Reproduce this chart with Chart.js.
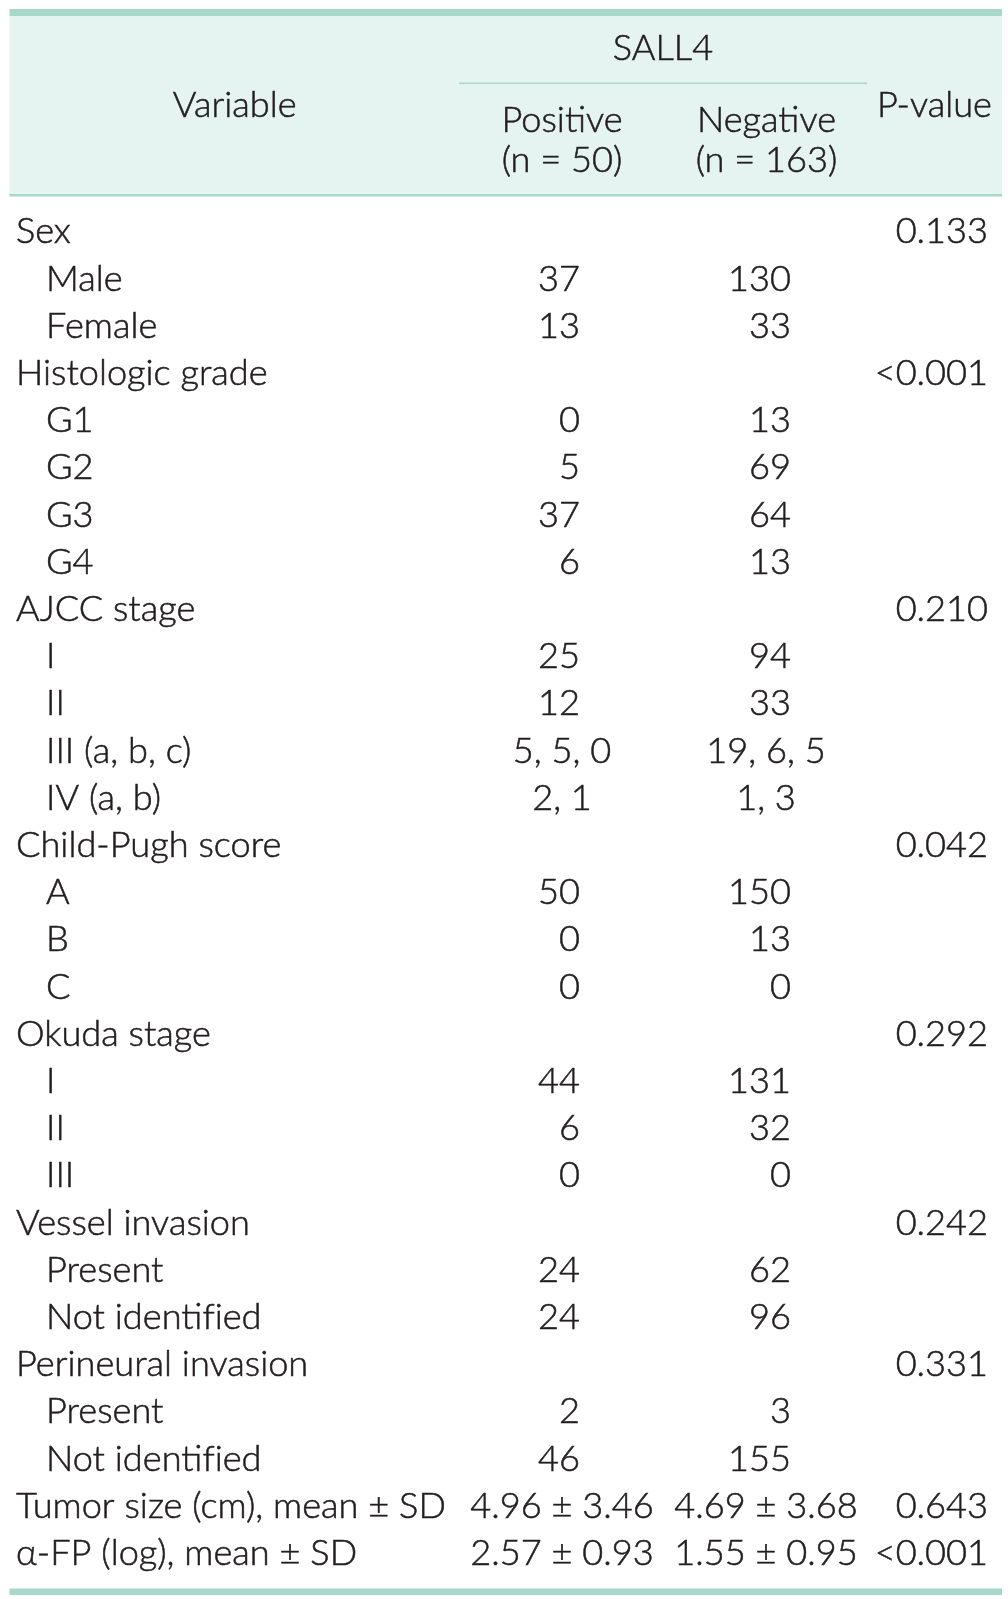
<!DOCTYPE html>
<html>
<head>
<meta charset="utf-8">
<script src="https://cdn.jsdelivr.net/npm/chart.js@4"></script>
<style>
  body { margin: 0; background: #fff; }
  #wrap { width: 1008px; height: 1599px; }
</style>
</head>
<body>
<div id="wrap"><canvas id="tableChart" width="1008" height="1599"></canvas></div>
<script>
// table content
const variables = [
  'Sex', 'Male', 'Female',
  'Histologic grade', 'G1', 'G2', 'G3', 'G4',
  'AJCC stage', 'I', 'II', 'III (a, b, c)', 'IV (a, b)',
  'Child-Pugh score', 'A', 'B', 'C',
  'Okuda stage', 'I', 'II', 'III',
  'Vessel invasion', 'Present', 'Not identified',
  'Perineural invasion', 'Present', 'Not identified',
  'Tumor size (cm), mean \u00b1 SD',
  '\u03b1-FP (log), mean \u00b1 SD'
];
const levels = [0, 1, 1, 0, 1, 1, 1, 1, 0, 1, 1, 1, 1, 0, 1, 1, 1, 0, 1, 1, 1, 0, 1, 1, 0, 1, 1, 0, 0];
const positive = [
  '', '37', '13',
  '', '0', '5', '37', '6',
  '', '25', '12', '5, 5, 0', '2, 1',
  '', '50', '0', '0',
  '', '44', '6', '0',
  '', '24', '24',
  '', '2', '46',
  '4.96 \u00b1 3.46', '2.57 \u00b1 0.93'
];
const negative = [
  '', '130', '33',
  '', '13', '69', '64', '13',
  '', '94', '33', '19, 6, 5', '1, 3',
  '', '150', '13', '0',
  '', '131', '32', '0',
  '', '62', '96',
  '', '3', '155',
  '4.69 \u00b1 3.68', '1.55 \u00b1 0.95'
];
const pValues = [
  '0.133', '', '',
  '<0.001', '', '', '', '',
  '0.210', '', '', '', '',
  '0.042', '', '', '',
  '0.292', '', '', '',
  '0.242', '', '',
  '0.331', '', '',
  '0.643', '<0.001'
];
const groupTitle = 'SALL4';
const varTitle = 'Variable';
const pTitle = 'P-value';
const subTitles = [['Positive', '(n = 50)'], ['Negative', '(n = 163)']];

// layout
const FONT = '300 {size}px Lato';
const INK = '#231f20';
const TEAL = '#a6d8cb';
const HEAD_BG = '#e6f4f1';
const firstBase = 243.3;
const rowStep = 47.2;
const yMin = -firstBase / rowStep;
const yMax = yMin + 1599 / rowStep;
const col = { lab: 16, sub: 46, posR: 580, posC: 562, negR: 791, negC: 766, pR: 988 };

function isInt(s) { return /^\d+$/.test(s); }

function cells(texts, xFor) {
  return texts.map((t, i) => ({ x: xFor(t, i), y: i }));
}

function font(size) { return FONT.replace('{size}', size.toFixed(2)); }

// keep "fi" from joining into a ligature, as in the original print
function noLig(s) { return s.replace(/fi/g, 'f\u200ci'); }

// light face plus a hairline stroke, a bit heavier than Lato Light
function ink(ctx, s, x, y) {
  ctx.fillText(s, x, y);
  ctx.strokeText(s, x, y);
}

const ctxM = document.createElement('canvas').getContext('2d');
ctxM.font = font(100);
const fontSize = 100 * 430 / ctxM.measureText(variables[27]).width;

const tablePlugin = {
  id: 'tablePlugin',
  beforeDatasetsDraw(chart) {
    const { ctx, scales } = chart;
    const x = scales.x, y = scales.y;
    const L = x.getPixelForValue(9.5), R = x.getPixelForValue(1002);
    ctx.save();
    ctx.fillStyle = HEAD_BG;
    ctx.fillRect(L, 16, R - L, 179);
    ctx.fillStyle = TEAL;
    ctx.fillRect(L, 9, R - L, 7);
    ctx.fillRect(L, 194, R - L, 2.5);
    ctx.fillRect(x.getPixelForValue(459), 82.5, x.getPixelForValue(867) - x.getPixelForValue(459), 1.6);
    ctx.fillRect(L, y.getPixelForValue(28.5), R - L, 6.5);

    ctx.fillStyle = INK;
    ctx.strokeStyle = INK;
    ctx.lineWidth = 0.55;
    ctx.font = font(fontSize);
    ctx.textBaseline = 'alphabetic';
    ctx.textAlign = 'center';
    ink(ctx, groupTitle, x.getPixelForValue(663), 60);
    ink(ctx, varTitle, x.getPixelForValue(234.7), 117);
    ink(ctx, pTitle, x.getPixelForValue(934.5), 117);
    ink(ctx, subTitles[0][0], x.getPixelForValue(562), 132);
    ink(ctx, subTitles[0][1], x.getPixelForValue(562), 172);
    ink(ctx, subTitles[1][0], x.getPixelForValue(766.5), 132);
    ink(ctx, subTitles[1][1], x.getPixelForValue(766.5), 172);
    ctx.restore();
  },
  afterDatasetsDraw(chart) {
    const { ctx } = chart;
    ctx.save();
    ctx.fillStyle = INK;
    ctx.strokeStyle = INK;
    ctx.lineWidth = 0.55;
    ctx.font = font(fontSize);
    ctx.textBaseline = 'alphabetic';
    chart.data.datasets.forEach((ds, di) => {
      const meta = chart.getDatasetMeta(di);
      meta.data.forEach((pt, i) => {
        const t = ds.texts[i];
        if (!t) return;
        ctx.textAlign = ds.alignFor(t);
        ink(ctx, noLig(t), pt.x, pt.y);
      });
    });
    ctx.restore();
  }
};

new Chart(document.getElementById('tableChart'), {
  type: 'scatter',
  data: {
    datasets: [
      {
        label: 'Variable',
        texts: variables,
        alignFor: () => 'left',
        data: cells(variables, (t, i) => levels[i] ? col.sub : col.lab)
      },
      {
        label: 'Positive',
        texts: positive,
        alignFor: t => isInt(t) ? 'right' : 'center',
        data: cells(positive, t => isInt(t) ? col.posR : col.posC)
      },
      {
        label: 'Negative',
        texts: negative,
        alignFor: t => isInt(t) ? 'right' : 'center',
        data: cells(negative, t => isInt(t) ? col.negR : col.negC)
      },
      {
        label: 'P-value',
        texts: pValues,
        alignFor: () => 'right',
        data: cells(pValues, () => col.pR)
      }
    ]
  },
  options: {
    responsive: false,
    animation: false,
    events: [],
    layout: { padding: 0 },
    elements: { point: { radius: 0 } },
    plugins: { legend: { display: false }, tooltip: { enabled: false } },
    scales: {
      x: { type: 'linear', min: 0, max: 1008, display: false },
      y: { type: 'linear', min: yMin, max: yMax, reverse: true, display: false }
    }
  },
  plugins: [tablePlugin]
});
</script>
</body>
</html>
